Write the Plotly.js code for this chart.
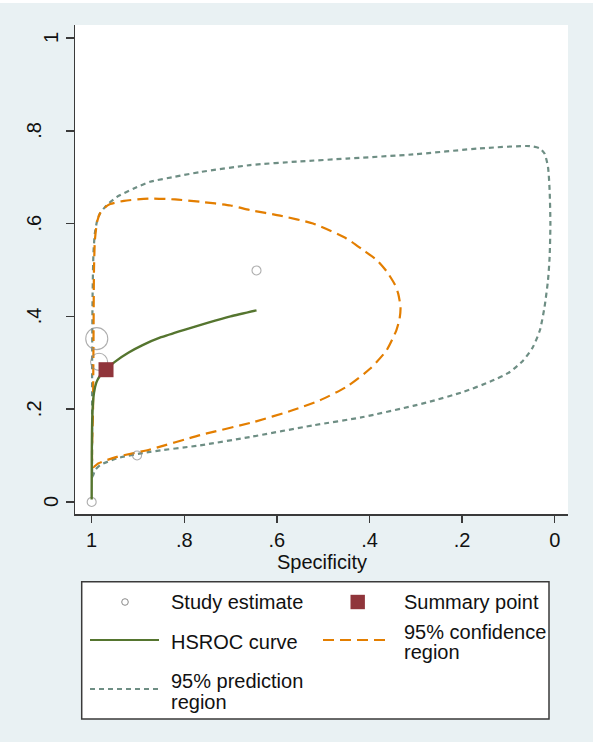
<!DOCTYPE html>
<html>
<head>
<meta charset="utf-8">
<script src="https://cdn.plot.ly/plotly-3.0.1.min.js"></script>
<style>html,body{margin:0;padding:0;background:#fff;}#chart{width:600px;height:742px;}</style>
</head>
<body>
<div id="chart"></div>
<script>
// ---------- data ----------
const xTickVals = [0, 0.2, 0.4, 0.6, 0.8, 1];
const xTickText = ['0', '.2', '.4', '.6', '.8', '1'];
const yTickVals = [0, 0.2, 0.4, 0.6, 0.8, 1];
const yTickText = ['0', '.2', '.4', '.6', '.8', '1'];

const studySpec = [1.000, 0.902, 0.644, 0.989, 0.984];
const studySens = [0.000, 0.100, 0.499, 0.352, 0.302];
const studyWeight = [1, 1, 1, 6, 3.6];

const summarySpec = [0.969];
const summarySens = [0.285];

const hsrocSpec = [1.000, 0.9998, 0.9993, 0.998, 0.995, 0.990, 0.982, 0.969, 0.950, 0.920, 0.890, 0.850, 0.800, 0.750, 0.700, 0.644];
const hsrocSens = [0.005, 0.080, 0.150, 0.200, 0.235, 0.257, 0.272, 0.285, 0.302, 0.322, 0.338, 0.355, 0.371, 0.386, 0.400, 0.413];

const confSpec = [0.997, 0.997, 0.996, 0.995, 0.993, 0.988, 0.982, 0.972, 0.960, 0.930, 0.874, 0.820, 0.766, 0.700, 0.658, 0.593, 0.522, 0.450, 0.414, 0.385, 0.363, 0.345, 0.338, 0.333, 0.335, 0.342, 0.363, 0.399, 0.450, 0.507, 0.565, 0.651, 0.766, 0.874, 0.946, 0.986, 0.997];
const confSens = [0.075, 0.200, 0.350, 0.500, 0.565, 0.605, 0.622, 0.634, 0.642, 0.649, 0.654, 0.652, 0.647, 0.639, 0.629, 0.617, 0.600, 0.568, 0.543, 0.522, 0.497, 0.468, 0.449, 0.420, 0.395, 0.370, 0.327, 0.287, 0.248, 0.219, 0.198, 0.172, 0.144, 0.113, 0.097, 0.083, 0.075];

const predSpec = [0.998, 0.999, 0.999, 0.998, 0.996, 0.993, 0.988, 0.982, 0.970, 0.946, 0.910, 0.874, 0.820, 0.766, 0.658, 0.550, 0.450, 0.306, 0.162, 0.054, 0.032, 0.022, 0.0145, 0.011, 0.0093, 0.011, 0.0145, 0.022, 0.032, 0.047, 0.068, 0.097, 0.140, 0.198, 0.270, 0.306, 0.414, 0.522, 0.658, 0.766, 0.874, 0.946, 0.982, 0.993, 0.998];
const predSens = [0.054, 0.150, 0.300, 0.450, 0.540, 0.580, 0.607, 0.622, 0.637, 0.657, 0.675, 0.690, 0.701, 0.711, 0.726, 0.734, 0.740, 0.749, 0.762, 0.767, 0.762, 0.751, 0.722, 0.672, 0.600, 0.528, 0.478, 0.420, 0.370, 0.334, 0.305, 0.280, 0.259, 0.237, 0.216, 0.207, 0.183, 0.165, 0.140, 0.122, 0.108, 0.094, 0.079, 0.068, 0.054];

const legendLabels = ['Study estimate', 'Summary point', 'HSROC curve', ['95% confidence', 'region'], ['95% prediction', 'region']];
const xTitle = 'Specificity';

// ---------- style ----------
const C_BG = '#E9F1F3';
const C_AXIS = '#3a3a3a';
const C_STUDY = '#8a8a8a';
const C_SUM = '#90353B';
const C_HSROC = '#55752F';
const C_CONF = '#E37E00';
const C_PRED = '#6E8E84';
const FONT = '"Liberation Sans", Arial, Helvetica, sans-serif';
const FS = 20;

const L = 75, R = 568, T = 25, B = 514, W = 600, H = 742;
const px = x => (x - L) / (R - L);
const py = y => (B - y) / (B - T);

const traces = [
  {x: predSpec, y: predSens, mode: 'lines', line: {color: C_PRED, width: 2.2, dash: '5px,4px', shape: 'spline', smoothing: 0.6}},
  {x: confSpec, y: confSens, mode: 'lines', line: {color: C_CONF, width: 2.2, dash: '11px,6px', shape: 'spline', smoothing: 0.6}},
  {x: studySpec, y: studySens, mode: 'markers', marker: {symbol: 'circle-open', color: C_STUDY, size: studyWeight.map(w => 9 * Math.sqrt(w)), line: {width: 1.1, color: C_STUDY}}},
  {x: hsrocSpec, y: hsrocSens, mode: 'lines', line: {color: C_HSROC, width: 2.4, shape: 'spline', smoothing: 0.6}},
  {x: summarySpec, y: summarySens, mode: 'markers', marker: {symbol: 'square', color: C_SUM, size: 15}}
].map(t => Object.assign({showlegend: false, hoverinfo: 'skip'}, t));

const shapes = [];
const annotations = [];

// white strips at top and right of the image
shapes.push({type: 'rect', xref: 'paper', yref: 'paper', x0: px(0), x1: px(W), y0: py(3), y1: py(0), fillcolor: '#fff', line: {width: 0}, layer: 'above'});
shapes.push({type: 'rect', xref: 'paper', yref: 'paper', x0: px(593), x1: px(W), y0: py(H), y1: py(0), fillcolor: '#fff', line: {width: 0}, layer: 'above'});

// y tick labels (rotated, Stata style)
yTickVals.forEach((v, i) => {
  const t = yTickText[i];
  const cx = t.length === 1 ? 51 : 34;
  annotations.push({xref: 'paper', yref: 'y', x: px(cx), y: v, text: t, showarrow: false, textangle: -90,
    xanchor: 'center', yanchor: 'middle', font: {family: FONT, size: FS, color: '#111'}});
});

// x axis title
annotations.push({xref: 'paper', yref: 'paper', x: px(321.5), y: py(562), text: xTitle, showarrow: false,
  xanchor: 'center', yanchor: 'middle', font: {family: FONT, size: FS, color: '#111'}});

// legend box
shapes.push({type: 'rect', xref: 'paper', yref: 'paper', x0: px(81.7), x1: px(549), y0: py(719), y1: py(581.7),
  fillcolor: '#fff', line: {color: C_AXIS, width: 1.5}});
shapes.push({type: 'circle', xref: 'paper', yref: 'paper', x0: px(125 - 3.3), x1: px(125 + 3.3), y0: py(602 + 3.3), y1: py(602 - 3.3),
  line: {color: C_STUDY, width: 1}});
shapes.push({type: 'rect', xref: 'paper', yref: 'paper', x0: px(357.7 - 7.2), x1: px(357.7 + 7.2), y0: py(602 + 7.2), y1: py(602 - 7.2),
  fillcolor: C_SUM, line: {width: 0}});
shapes.push({type: 'line', xref: 'paper', yref: 'paper', x0: px(90), x1: px(159), y0: py(640), y1: py(640), line: {color: C_HSROC, width: 2}});
shapes.push({type: 'line', xref: 'paper', yref: 'paper', x0: px(323), x1: px(386), y0: py(640), y1: py(640), line: {color: C_CONF, width: 2, dash: '11px,6px'}});
shapes.push({type: 'line', xref: 'paper', yref: 'paper', x0: px(90), x1: px(159), y0: py(689), y1: py(689), line: {color: C_PRED, width: 2, dash: '5px,4px'}});

function legText(txt, x, y) {
  annotations.push({xref: 'paper', yref: 'paper', x: px(x), y: py(y), text: txt, showarrow: false,
    xanchor: 'left', yanchor: 'middle', font: {family: FONT, size: FS, color: '#111'}});
}
legText(legendLabels[0], 169, 602);
legText(legendLabels[1], 402, 602);
legText(legendLabels[2], 169, 642);
legText(legendLabels[3][0], 402, 632);
legText(legendLabels[3][1], 402, 652);
legText(legendLabels[4][0], 169, 681.5);
legText(legendLabels[4][1], 169, 701.5);

const layout = {
  width: W, height: H,
  margin: {l: L, r: W - R, t: T, b: H - B, pad: 0},
  paper_bgcolor: C_BG,
  plot_bgcolor: '#fff',
  font: {family: FONT, size: FS, color: '#111'},
  showlegend: false,
  xaxis: {
    range: [1.036, -0.0287], tickmode: 'array', tickvals: xTickVals, ticktext: xTickText,
    ticks: 'outside', ticklen: 7, tickwidth: 1.5, tickcolor: C_AXIS,
    showline: true, linecolor: C_AXIS, linewidth: 1.5, showgrid: false, zeroline: false,
    tickfont: {family: FONT, size: FS, color: '#111'}
  },
  yaxis: {
    range: [-0.026, 1.028], tickmode: 'array', tickvals: yTickVals, ticktext: yTickText,
    ticks: 'outside', ticklen: 8, tickwidth: 1.5, tickcolor: C_AXIS,
    showline: true, linecolor: C_AXIS, linewidth: 1.5, showgrid: false, zeroline: false,
    showticklabels: false
  },
  shapes: shapes,
  annotations: annotations
};

Plotly.newPlot('chart', traces, layout, {displayModeBar: false, staticPlot: true});
</script>
</body>
</html>
